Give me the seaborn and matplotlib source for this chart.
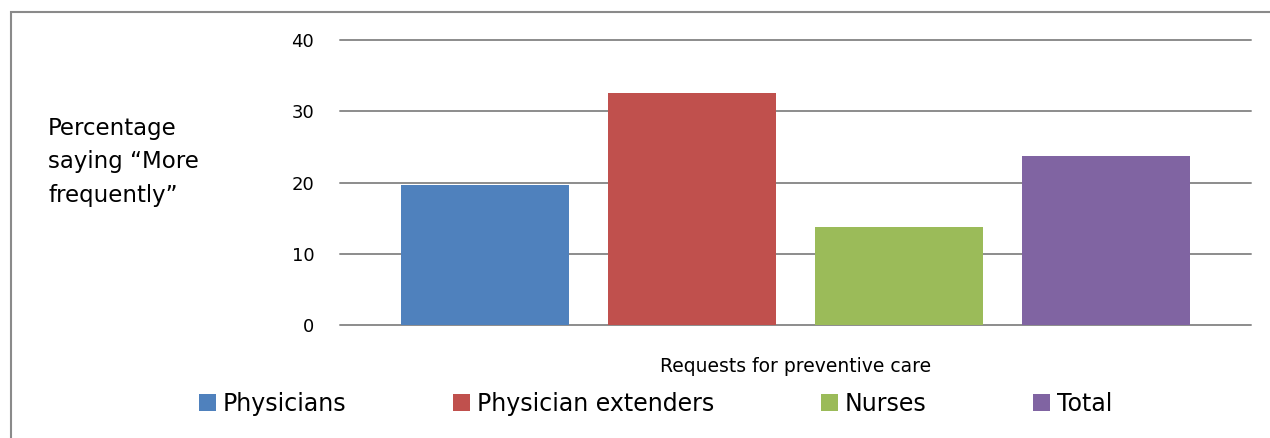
import matplotlib
matplotlib.use("Agg")
import matplotlib.pyplot as plt
import seaborn as sns
import pandas as pd
from matplotlib.patches import Rectangle

sns.set_style("white")
plt.rcParams['font.family'] = ['DejaVu Sans']
plt.rcParams['text.color'] = 'black'
plt.rcParams['axes.labelcolor'] = 'black'

# data
category = "Requests for preventive care"
roles = ["Physicians", "Physician extenders", "Nurses", "Total"]
pct_more = [19.7, 32.6, 13.8, 23.7]
colors = ["#4F81BD", "#C0504D", "#9BBB59", "#8064A2"]
yticks = [0, 10, 20, 30, 40]

df = pd.DataFrame({"group": [category] * len(roles), "role": roles, "pct": pct_more})

fig = plt.figure(figsize=(12.7, 4.38), dpi=100)
ax = fig.add_axes([340 / 1270, 1 - 325 / 438, 911 / 1270, 285 / 438])

sns.barplot(data=df, x="group", y="pct", hue="role", hue_order=roles,
            palette=colors, saturation=1, width=0.91, gap=0.19, linewidth=0,
            ax=ax, zorder=2)

ax.set_ylim(0, 40)
ax.set_yticks(yticks)
ax.set_xlim(-0.5, 0.5)
ax.set_xticks([])
for s in ax.spines.values():
    s.set_visible(False)
ax.yaxis.grid(True, color="#8c8c8c", lw=1.4, zorder=0)
for gl in ax.get_ygridlines():
    gl.set_clip_on(False)
ax.set_axisbelow(True)
ax.tick_params(axis="y", length=0, pad=18.5, labelsize=13, labelcolor="black")

ax.set_ylabel("Percentage\nsaying \u201cMore\nfrequently\u201d", rotation=0,
              ha="left", va="center", fontsize=16.5, linespacing=1.6)
ax.yaxis.set_label_coords(-0.3205, 0.572)
ax.set_xlabel(category, fontsize=13.5, va="center")
ax.xaxis.set_label_coords(0.5, -0.147)

handles, labels = ax.get_legend_handles_labels()
ax.legend(handles, labels, ncol=4, loc="center left", frameon=False,
          bbox_to_anchor=(199 / 1270, 1 - 404 / 438), bbox_transform=fig.transFigure,
          fontsize=17, handlelength=0.72, handleheight=0.72, handletextpad=0.3,
          columnspacing=4.5, borderpad=0, borderaxespad=0)

# outer chart frame
fig.patches.append(Rectangle((11 / 1270, -0.1), 1.2, 1.1 - 12 / 438,
                             transform=fig.transFigure, fill=False,
                             edgecolor="#8a8a8a", lw=1.5))

fig.savefig("out.png", dpi=100)
